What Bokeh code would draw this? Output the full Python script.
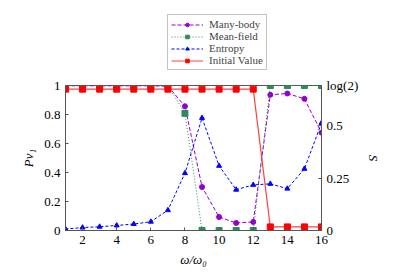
import math
from bokeh.plotting import figure
from bokeh.layouts import column
from bokeh.models import Range1d, LinearAxis, FixedTicker, CustomJSTickFormatter, Legend, LegendItem
from bokeh.embed import file_html
from bokeh.resources import INLINE

omega = [1, 2, 3, 4, 5, 6, 7, 8, 9, 10, 11, 12, 13, 14, 15, 16]
many_body = [0.998, 0.998, 0.998, 0.998, 0.998, 0.998, 0.995, 0.857, 0.30, 0.093, 0.052, 0.059, 0.936, 0.945, 0.908, 0.675]
mean_field = [1.0, 1.0, 1.0, 1.0, 1.0, 1.0, 1.0, 0.808, 0.0, 0.0, 0.0, 0.0, 1.0, 1.0, 1.0, 1.0]
entropy = [0.007, 0.014, 0.018, 0.024, 0.031, 0.042, 0.097, 0.274, 0.538, 0.309, 0.195, 0.218, 0.223, 0.200, 0.295, 0.514]
initial_value = [0.975, 0.975, 0.975, 0.975, 0.975, 0.975, 0.975, 0.975, 0.975, 0.975, 0.975, 0.975, 0.025, 0.025, 0.025, 0.025]
series_labels = ["Many-body", "Mean-field", "Entropy", "Initial Value"]

x_ticks = [2, 4, 6, 8, 10, 12, 14, 16]
p_ticks = [0, 0.2, 0.4, 0.6, 0.8, 1]
s_ticks = [0, 0.25, 0.5, math.log(2)]

FONT = "serif"
purple = "#9400d3"
green = "#2e8b57"
blue = "#0000ff"
red = "#ff0000"
styles = [
    dict(line_color=purple, line_dash="4 2", line_width=1, marker="circle", size=5, mcolor=purple),
    dict(line_color=green, line_dash="1 2", line_width=1, marker="square", size=6, mcolor=green),
    dict(line_color=blue, line_dash="3 2", line_width=1, marker="triangle", size=5, mcolor=blue),
    dict(line_color="#ff4040", line_dash="solid", line_width=1.2, marker="square", size=6, mcolor=red),
]
series = [many_body, mean_field, entropy, initial_value]

# ---- main plot ----
p = figure(width=395, height=198, output_backend="svg", toolbar_location=None,
           x_range=Range1d(1, 16), y_range=Range1d(0, 1),
           min_border_left=65, min_border_right=74, min_border_top=8, min_border_bottom=45)
p.extra_y_ranges = {"s": Range1d(0, math.log(2))}
p.grid.visible = False
p.outline_line_color = "#555555"
p.outline_line_width = 1

def style_axis(ax):
    ax.major_label_text_font = FONT
    ax.major_label_text_font_size = "13px"
    ax.major_label_text_color = "black"
    ax.axis_label_text_font = FONT
    ax.axis_label_text_font_size = "13px"
    ax.axis_label_text_font_style = "italic"
    ax.axis_label_text_color = "black"
    ax.axis_line_color = "#555555"
    ax.major_tick_in = 3
    ax.major_tick_out = 0
    ax.minor_tick_line_color = None
    ax.major_tick_line_color = "#555555"

style_axis(p.xaxis[0])
style_axis(p.yaxis[0])
p.xaxis.ticker = FixedTicker(ticks=x_ticks)
p.xaxis.axis_label = "ω/ω₀"
p.yaxis.ticker = FixedTicker(ticks=p_ticks)
p.yaxis.formatter = CustomJSTickFormatter(code="return String(Math.round(tick*10)/10);")
p.yaxis.axis_label = "Pν₁"

rax = LinearAxis(y_range_name="s", ticker=FixedTicker(ticks=s_ticks),
                 formatter=CustomJSTickFormatter(code="if (Math.abs(tick-0.693147)<1e-3) return 'log(2)'; return String(tick);"),
                 axis_label="S")
style_axis(rax)
p.add_layout(rax, "right")

for vals, st in zip(series, styles):
    kw = {"y_range_name": "s"} if vals is entropy else {}
    p.line(omega, vals, line_color=st["line_color"], line_dash=st["line_dash"], line_width=st["line_width"], **kw)
    p.scatter(omega, vals, marker=st["marker"], size=st["size"], fill_color=st["mcolor"], line_color=st["mcolor"], **kw)

# ---- legend strip above the plot (series drawn outside its visible range, only the legend shows) ----
top = figure(width=395, height=77, output_backend="svg", toolbar_location=None,
             x_range=Range1d(100, 101), y_range=Range1d(0, 1),
             min_border_left=65, min_border_right=74, min_border_top=0, min_border_bottom=0)
top.axis.visible = False
top.grid.visible = False
top.outline_line_color = None

items = []
for lab, vals, st in zip(series_labels, series, styles):
    l = top.line(omega, vals, line_color=st["line_color"], line_dash=st["line_dash"], line_width=st["line_width"])
    m = top.scatter(omega, vals, marker=st["marker"], size=st["size"], fill_color=st["mcolor"], line_color=st["mcolor"])
    items.append(LegendItem(label=lab, renderers=[l, m]))

legend = Legend(items=items, location=(102, 7))
legend.label_text_font = FONT
legend.label_text_font_size = "11px"
legend.label_height = 9
legend.glyph_height = 9
legend.glyph_width = 32
legend.spacing = -2
legend.padding = 3
legend.margin = 0
legend.border_line_color = "#888888"
legend.label_standoff = 6
top.add_layout(legend, "center")

layout = column(top, p, spacing=0)
open("out.html", "w").write(file_html(layout, INLINE))
